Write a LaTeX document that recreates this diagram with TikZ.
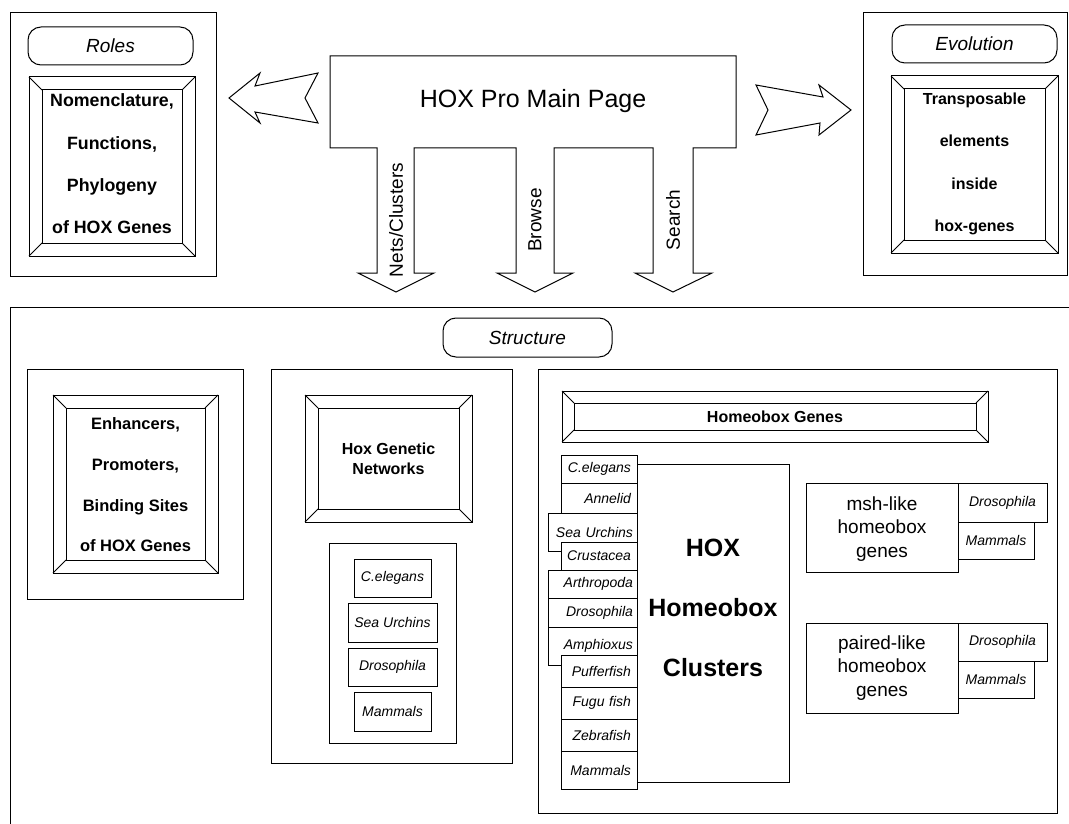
\documentclass[tikz,border=0pt]{standalone}
\usepackage{fontspec}
\setmainfont{Liberation Sans}
\usetikzlibrary{fit}
\newcommand\bevelbox[6]{%
  \node[box, fit={(#2,#3) (#4,#5)}] (#1o) {};
  \node[box, fit={({#2+#6},{#3+#6}) ({#4-#6},{#5-#6})}] (#1i) {};
  \draw (#1o.north west) -- (#1i.north west)
        (#1o.north east) -- (#1i.north east)
        (#1o.south west) -- (#1i.south west)
        (#1o.south east) -- (#1i.south east);
}
\newcommand\fsz[2]{\fontsize{#1}{#2}\selectfont}
\begin{document}
\begin{tikzpicture}[x=1pt,y=-1pt,line width=1pt,line join=miter,
  box/.style={draw, inner sep=0pt, outer sep=0pt},
  pill/.style={draw, rounded corners=13pt, inner sep=0pt, outer sep=0pt},
  pilltext/.style={font=\fsz{19}{22}\itshape},
  beveltext/.style={font=\fsz{16.5}{42.3}\bfseries, align=center},
  tabn/.style={draw, fill=white, inner xsep=6pt, inner ysep=0pt, outer sep=0pt, text width=64pt, align=right, font=\fsz{14}{16}\itshape, anchor=north east},
  tabw/.style={tabn, inner xsep=4pt, text width=81pt},
  spec/.style={draw, fill=white, inner sep=0pt, outer sep=0pt, font=\fsz{14}{16}\itshape},
  arrowlabel/.style={rotate=90, font=\fsz{19}{22}}
]
\useasboundingbox (0,0) rectangle (1069,824);

% ---------- Roles ----------
\node[box, fit={(10,13) (216,276)}] (roles) {};
\node[pill, fit={(28,27) (193,65)}] (rolespill) {};
\node[pilltext] (roleslabel) at (rolespill.center) {Roles};
\bevelbox{rb}{29}{77}{195}{256}{13}
\node[beveltext, font=\fsz{17.8}{42.3}\bfseries] (rolestext) at (112,164) {Nomenclature,\\Functions,\\Phylogeny\\of HOX Genes};

% ---------- Evolution ----------
\node[box, fit={(863,13) (1067,275)}] (evo) {};
\node[pill, fit={(892,25) (1057,63)}] (evopill) {};
\node[pilltext] (evolabel) at (evopill.center) {Evolution};
\bevelbox{eb}{891}{76}{1058}{253}{13}
\node[beveltext, font=\fsz{16}{42.3}\bfseries] (evotext) at (974.5,164) {Transposable\\elements\\inside\\hox-genes};

% ---------- Main page ----------
\draw (330,56) -- (736,56) -- (736,148) -- (693,148) -- (693,273) -- (712,273)
  -- (673,292) -- (635,273) -- (653,273) -- (653,148) -- (554,148) -- (554,273)
  -- (573,273) -- (535,292) -- (497,273) -- (516,273) -- (516,148) -- (414,148)
  -- (414,273) -- (434,273) -- (396,292) -- (358,273) -- (377,273) -- (377,148)
  -- (330,148) -- cycle;
\node[font=\fsz{25}{30}] (main) at (533,101) {HOX Pro Main Page};
\node[arrowlabel] (nets) at (396,220) {Nets/Clusters};
\node[arrowlabel] (browse) at (535,220) {Browse};
\node[arrowlabel] (search) at (673,220) {Search};

% block arrows
\draw (229,98) -- (260,73) -- (255,86) -- (318,73) -- (305,98) -- (318,123)
  -- (255,112) -- (260,123) -- cycle;
\draw (756,85) -- (768,110) -- (756,135) -- (820,123) -- (819,135) -- (851,110)
  -- (819,85) -- (823,97) -- cycle;

% ---------- Structure ----------
\draw (10,824) -- (10,307) -- (1069,307);
\node[pill, fit={(443,318) (612,357)}] (structpill) {};
\node[pilltext] (structlabel) at (structpill.center) {Structure};

% Enhancers
\node[box, fit={(27,369) (243,599)}] (enh) {};
\bevelbox{enb}{53}{395}{218}{573}{13}
\node[beveltext, font=\fsz{16.5}{40.7}\bfseries] (enhtext) at (135.5,485) {Enhancers,\\Promoters,\\Binding Sites\\of HOX Genes};

% Hox genetic networks
\node[box, fit={(271,369) (512,763)}] (net) {};
\bevelbox{nb}{305}{395}{472}{522}{13}
\node[beveltext, font=\fsz{16}{20}\bfseries] (nettext) at (388.5,458.5) {Hox Genetic\\Networks};
\node[box, fit={(329,543) (456,743)}] (netspec) {};
\node[spec, minimum width=77pt, minimum height=38pt] (n1) at (392.5,578) {C.elegans};
\node[spec, minimum width=89pt, minimum height=39pt] (n2) at (392.5,622.5) {Sea Urchins};
\node[spec, minimum width=89pt, minimum height=38pt] (n3) at (392.5,667) {Drosophila};
\node[spec, minimum width=77pt, minimum height=39pt] (n4) at (392.5,711.5) {Mammals};

% Homeobox genes
\node[box, fit={(538,369) (1057,813)}] (hb) {};
\bevelbox{hbb}{562}{391}{988}{442}{12}
\node[font=\fsz{16}{20}\bfseries] (hbtext) at (hbbi.center) {Homeobox Genes};

\node[box, fit={(637,464) (789,782)}] (clu) {};
\node[font=\fsz{25}{60}\bfseries, align=center] (clutext) at (713,608) {HOX\\Homeobox\\Clusters};

\node[tabn, minimum height=28pt] (t1) at (637,455) {C.elegans};
\node[tabn, minimum height=30pt] (t2) at (637,483) {Annelid};
\node[tabw, minimum height=38pt] (t3) at (637,513) {\mbox{Sea Urchins}};
\node[tabn, minimum height=28pt] (t4) at (637,542) {Crustacea};
\node[tabw, minimum height=28pt] (t5) at (637,570) {Arthropoda};
\node[tabw, minimum height=29pt] (t6) at (637,598) {Drosophila};
\node[tabw, minimum height=38pt] (t7) at (637,627) {Amphioxus};
\node[tabn, minimum height=32pt] (t8) at (637,655) {Pufferfish};
\node[tabn, minimum height=32pt] (t9) at (637,687) {Fugu fish};
\node[tabn, minimum height=32pt] (t10) at (637,719) {Zebrafish};
\node[tabn, minimum height=38pt] (t11) at (637,751) {Mammals};

% msh-like
\node[box, fit={(806,483) (958,572)}] (msh) {};
\node[font=\fsz{19}{23.5}, align=center] (mshtext) at (882,529) {msh-like\\homeobox\\genes};
\node[spec, anchor=north west, minimum width=89pt, minimum height=39pt] (m1) at (958,483) {Drosophila};
\node[spec, anchor=north west, minimum width=76pt, minimum height=37pt] (m2) at (958,522) {Mammals};

% paired-like
\node[box, fit={(806,623) (958,713)}] (pai) {};
\node[font=\fsz{19}{23.5}, align=center] (paitext) at (882,668) {paired-like\\homeobox\\genes};
\node[spec, anchor=north west, minimum width=89pt, minimum height=38pt] (p1) at (958,623) {Drosophila};
\node[spec, anchor=north west, minimum width=76pt, minimum height=37pt] (p2) at (958,661) {Mammals};
\end{tikzpicture}
\end{document}
